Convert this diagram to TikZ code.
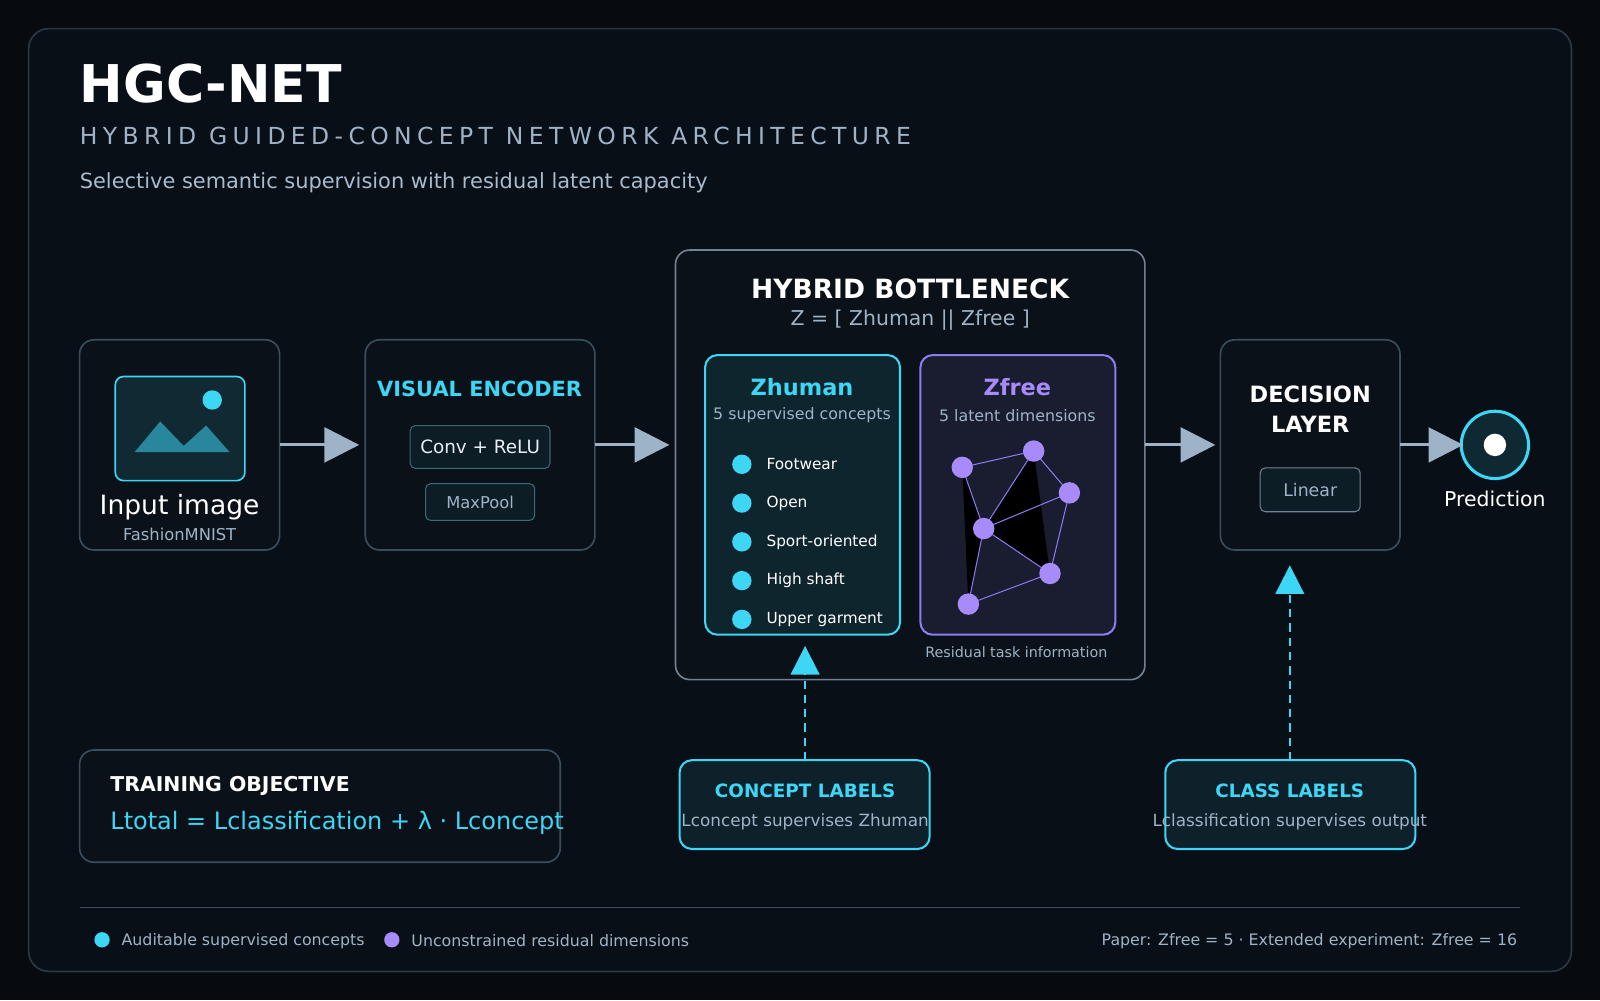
\documentclass[tikz,border=0pt]{standalone}
\usepackage{fontspec}
\setmainfont{DejaVu Sans}
\usetikzlibrary{positioning,arrows.meta}
\definecolor{bg}{HTML}{070B10}
\definecolor{panel}{HTML}{0A1118}
\definecolor{edge}{HTML}{3A4D5C}
\definecolor{cyn}{HTML}{3DD6F5}
\definecolor{prp}{HTML}{A78BFA}
\definecolor{prpb}{HTML}{8B7CF0}
\definecolor{muted}{HTML}{9FB3C8}
\definecolor{soft}{HTML}{E8EEF4}
\newcommand{\fs}[1]{\fontsize{#1}{#1}\selectfont}
\begin{document}
\begin{tikzpicture}[x=1pt,y=-1pt,
  card/.style={draw=edge,line width=1.6pt,rounded corners=14pt,fill=panel},
  chip/.style={draw=edge!80!cyn,line width=1pt,rounded corners=5pt,fill=cyn!6!panel,text=soft,inner sep=0pt},
  flow/.style={-{Triangle[length=34pt,width=34pt]},line width=3pt,color=muted},
  guide/.style={-{Triangle[length=28pt,width=28pt]},dashed,dash pattern=on 8pt off 6pt,line width=2pt,color=cyn},
  cdot/.style={circle,fill=cyn,inner sep=0pt,minimum size=19pt},
  pdot/.style={circle,fill=prp,inner sep=0pt,minimum size=21pt},
  lbl/.style={inner sep=0pt,text=muted}]
  \fill[bg] (0,0) rectangle (1568,980);
  \useasboundingbox (0,0) rectangle (1568,980);
  \draw[draw=edge!70!bg,line width=1.6pt,rounded corners=20pt,fill=panel!70!bg] (28,28) rectangle (1540,952);
  % header
  \node[anchor=base west,inner sep=0pt,text=white,font=\fs{51}\bfseries] (title) at (78,100) {HGC-NET};
  \node[anchor=base west,inner sep=0pt,text=muted,font=\fs{23}\addfontfeature{LetterSpace=23}] (sub) at (78,142) {HYBRID GUIDED-CONCEPT NETWORK ARCHITECTURE};
  \node[anchor=base west,lbl,text=muted!90!white,font=\fs{20.5}] (tag) at (78,185) {Selective semantic supervision with residual latent capacity};
  % input
  \draw[card] (78,333) rectangle (274,539);
  \node[draw=cyn,line width=1.6pt,rounded corners=8pt,fill=cyn!12!panel,minimum width=127pt,minimum height=102pt] (img) at (176.5,420) {};
  \fill[cyn!60!panel] (132,443) -- (157,413) -- (180,437) -- (202,417) -- (225,443) -- cycle;
  \node[circle,fill=cyn,inner sep=0pt,minimum size=19pt] (sun) at (208,392) {};
  \node[lbl,text=white,font=\fs{26}] (inlbl) at (176,497) {Input image};
  \node[lbl,font=\fs{16}] (insub) at (176,524) {FashionMNIST};
  % encoder
  \draw[card] (358,333) rectangle (583,539);
  \node[lbl,text=cyn,font=\fs{20.5}\bfseries] (enc) at (470,381) {VISUAL ENCODER};
  \node[chip,minimum width=137pt,minimum height=42pt,font=\fs{18}] (conv) at (470.5,438) {Conv + ReLU};
  \node[chip,minimum width=107pt,minimum height=36pt,text=muted,font=\fs{16}] (pool) at (470.5,492) {MaxPool};
  % bottleneck
  \draw[card,draw=muted!70!panel] (662,245) rectangle (1122,666);
  \node[lbl,text=white,font=\fs{26}\bfseries] (hb) at (892,283) {HYBRID BOTTLENECK};
  \node[lbl,font=\fs{20}] (zeq) at (892,314) {Z = [ Zhuman || Zfree ]};
  \draw[draw=cyn,line width=2pt,rounded corners=12pt,fill=cyn!10!panel] (691,348) rectangle (882,622);
  \node[lbl,text=cyn,font=\fs{22}\bfseries] (zh) at (786,379) {Zhuman};
  \node[lbl,font=\fs{15.5}] (zhs) at (786,407) {5 supervised concepts};
  \foreach \y/\t in {455/Footwear,493/Open,531/Sport-oriented,569/High shaft,607/Upper garment}{
    \node[cdot] at (727,\y) {};
    \node[anchor=west,inner sep=0pt,text=white,font=\fs{15}] at (751,\y) {\t};
  }
  \draw[draw=prpb,line width=2pt,rounded corners=12pt,fill=prp!10!panel] (902,348) rectangle (1093,622);
  \node[lbl,text=prp,font=\fs{22}\bfseries] (zf) at (997,379) {Zfree};
  \node[lbl,font=\fs{15.5}] (zfs) at (997,407) {5 latent dimensions};
  \coordinate (ga) at (943,458); \coordinate (gb) at (1013,442); \coordinate (gc) at (1048,483);
  \coordinate (gd) at (964,518); \coordinate (ge) at (1029,562); \coordinate (gf) at (949,592);
  \fill[black] (ga) -- (gd) -- (gf) -- cycle;
  \fill[black] (gb) -- (ge) -- (gd) -- cycle;
  \draw[prpb,line width=1pt] (ga) -- (gb) -- (gc) -- (ge) -- (gf) -- (gd) -- (ga) (gd) -- (gc) (gd) -- (ge) (gb) -- (gd);
  \foreach \p in {ga,gb,gc,gd,ge,gf} \node[pdot] at (\p) {};
  \node[lbl,font=\fs{14}] (resid) at (996,639) {Residual task information};
  % decision
  \draw[card] (1196,333) rectangle (1372,539);
  \node[lbl,text=white,font=\fs{22}\bfseries,align=center] (dec) at (1284,401) {DECISION\\[8pt]LAYER};
  \node[chip,draw=muted!70!panel,minimum width=98pt,minimum height=43pt,text=muted,font=\fs{17}] (lin) at (1284,480) {Linear};
  % prediction
  \node[circle,draw=cyn,line width=3pt,fill=cyn!15!bg,minimum size=66pt,inner sep=0pt] (pred) at (1465,436) {};
  \node[circle,fill=white,minimum size=22pt,inner sep=0pt] at (pred) {};
  \node[lbl,text=white,font=\fs{20}] (predl) at (1465,489) {Prediction};
  % flow arrows
  \coordinate (a1) at (274,436); \coordinate (a1e) at (352,436);
  \coordinate (a2) at (583,436); \coordinate (a2e) at (656,436);
  \coordinate (a3) at (1122,436); \coordinate (a3e) at (1191,436);
  \coordinate (a4) at (1372,436); \coordinate (a4e) at (1434,436);
  \draw[flow] (a1) -- (a1e);
  \draw[flow] (a2) -- (a2e);
  \draw[flow] (a3) -- (a3e);
  \draw[flow] (a4) -- (a4e);
  % supervision
  \draw[draw=cyn,line width=2pt,rounded corners=12pt,fill=cyn!8!panel] (666,745) rectangle (911,832);
  \node[lbl,text=cyn,font=\fs{18}\bfseries] (cl) at (789,775) {CONCEPT LABELS};
  \node[lbl,font=\fs{16.5}] (cls) at (789,805) {Lconcept supervises Zhuman};
  \draw[draw=cyn,line width=2pt,rounded corners=12pt,fill=cyn!8!panel] (1142,745) rectangle (1387,832);
  \node[lbl,text=cyn,font=\fs{18}\bfseries] (kl) at (1264,775) {CLASS LABELS};
  \node[lbl,font=\fs{16.5}] (kls) at (1264,805) {Lclassification supervises output};
  \coordinate (s1) at (789,745); \coordinate (s1e) at (789,633);
  \coordinate (s2) at (1264,745); \coordinate (s2e) at (1264,554);
  \draw[guide] (s1) -- (s1e);
  \draw[guide] (s2) -- (s2e);
  % objective
  \draw[card] (78,735) rectangle (549,845);
  \node[anchor=base west,inner sep=0pt,text=white,font=\fs{20}\bfseries] (obj) at (108,776) {TRAINING OBJECTIVE};
  \node[anchor=base west,inner sep=0pt,text=cyn,font=\fs{23.5}] (loss) at (108,813) {Ltotal = Lclassification + λ · Lconcept};
  % footer
  \draw[edge,line width=1.2pt] (78,889) -- (1490,889);
  \node[circle,fill=cyn,inner sep=0pt,minimum size=15pt] (lg1) at (100,921) {};
  \node[anchor=west,lbl,font=\fs{15.5}] at (119,922) {Auditable supervised concepts};
  \node[circle,fill=prp,inner sep=0pt,minimum size=15pt] (lg2) at (384,921) {};
  \node[anchor=west,lbl,font=\fs{15.5}] at (403,922) {Unconstrained residual dimensions};
  \node[anchor=east,lbl,font=\fs{15.5}] (paper) at (1487,922) {Paper: Zfree = 5 · Extended experiment: Zfree = 16};
\end{tikzpicture}
\end{document}
